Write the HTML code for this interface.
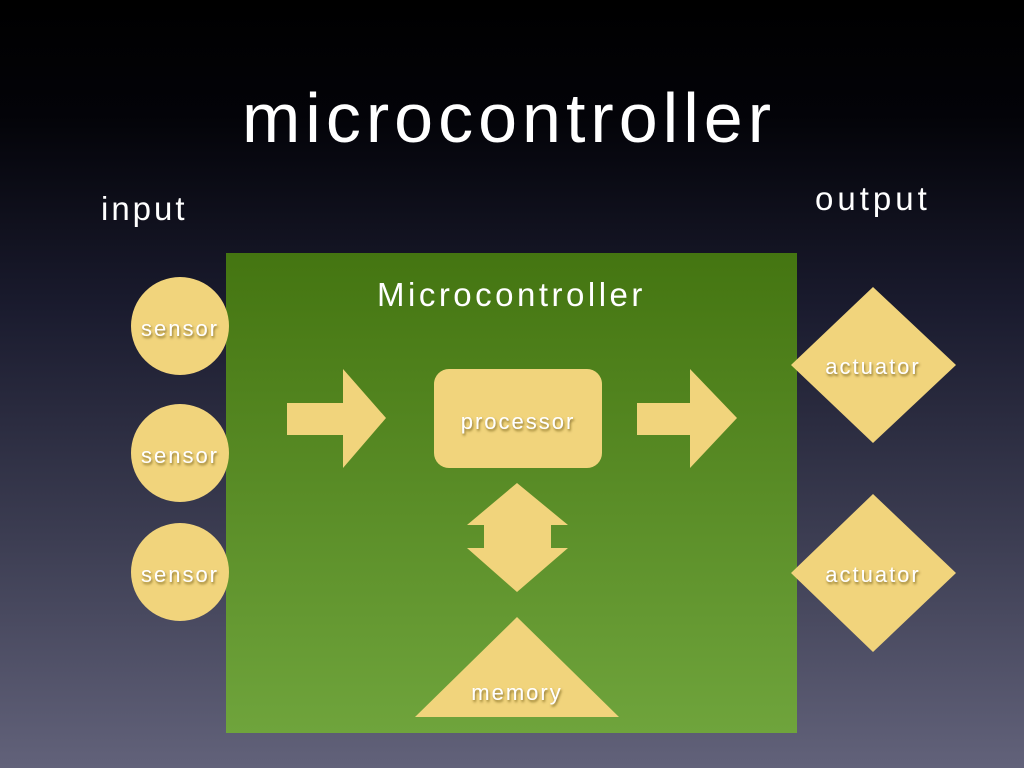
<!DOCTYPE html>
<html><head><meta charset="utf-8"><style>
html,body{margin:0;padding:0}
body{width:1024px;height:768px;overflow:hidden;background:linear-gradient(#000 0%,#030308 15%,#1a1b2e 40%,#3c3d52 70%,#62627a 100%);font-family:"Liberation Sans",sans-serif;position:relative}
.t{position:absolute;color:#fff;white-space:nowrap}
svg{position:absolute;left:0;top:0}
</style></head><body>
<svg width="1024" height="768">
<defs>
<linearGradient id="g" x1="0" y1="0" x2="0" y2="1"><stop offset="0" stop-color="#447511"/><stop offset="1" stop-color="#6fa43c"/></linearGradient>
<filter id="s"><feDropShadow dx="1" dy="2" stdDeviation="1.2" flood-color="#5a4410" flood-opacity="0.7"/></filter>
</defs>
<rect x="226" y="253" width="571" height="480" fill="url(#g)"/>
<g fill="#f1d47c">
<circle cx="180" cy="326" r="49"/>
<circle cx="180" cy="453" r="49"/>
<circle cx="180" cy="572" r="49"/>
<polygon points="287,403 343,403 343,369 386,418 343,468 343,435 287,435"/>
<rect x="434" y="369" width="168" height="99" rx="15"/>
<polygon points="637,403 690,403 690,369 737,418 690,468 690,435 637,435"/>
<polygon points="517,483 568,525 551,525 551,548 568,548 517,592 467,548 484,548 484,525 467,525"/>
<polygon points="517,617 619,717 415,717"/>
<polygon points="873,287 956,365 873,443 791,365"/>
<polygon points="873,494 956,573 873,652 791,573"/>
</g>
<g font-family="Liberation Sans,sans-serif" font-size="22" fill="#fff" text-anchor="middle" letter-spacing="2" filter="url(#s)">
<text x="180" y="336">sensor</text>
<text x="180" y="463">sensor</text>
<text x="180" y="582">sensor</text>
<text x="518" y="429">processor</text>
<text x="517" y="700">memory</text>
<text x="873" y="374">actuator</text>
<text x="873" y="582">actuator</text>
</g>
</svg>
<div class="t" style="left:242px;top:78px;font-size:70px;letter-spacing:5px">microcontroller</div>
<div class="t" style="left:101px;top:190px;font-size:33px;letter-spacing:3px">input</div>
<div class="t" style="left:815px;top:180px;font-size:33px;letter-spacing:4px">output</div>
<div class="t" style="left:377px;top:276px;font-size:33px;letter-spacing:3.5px">Microcontroller</div>
</body></html>
